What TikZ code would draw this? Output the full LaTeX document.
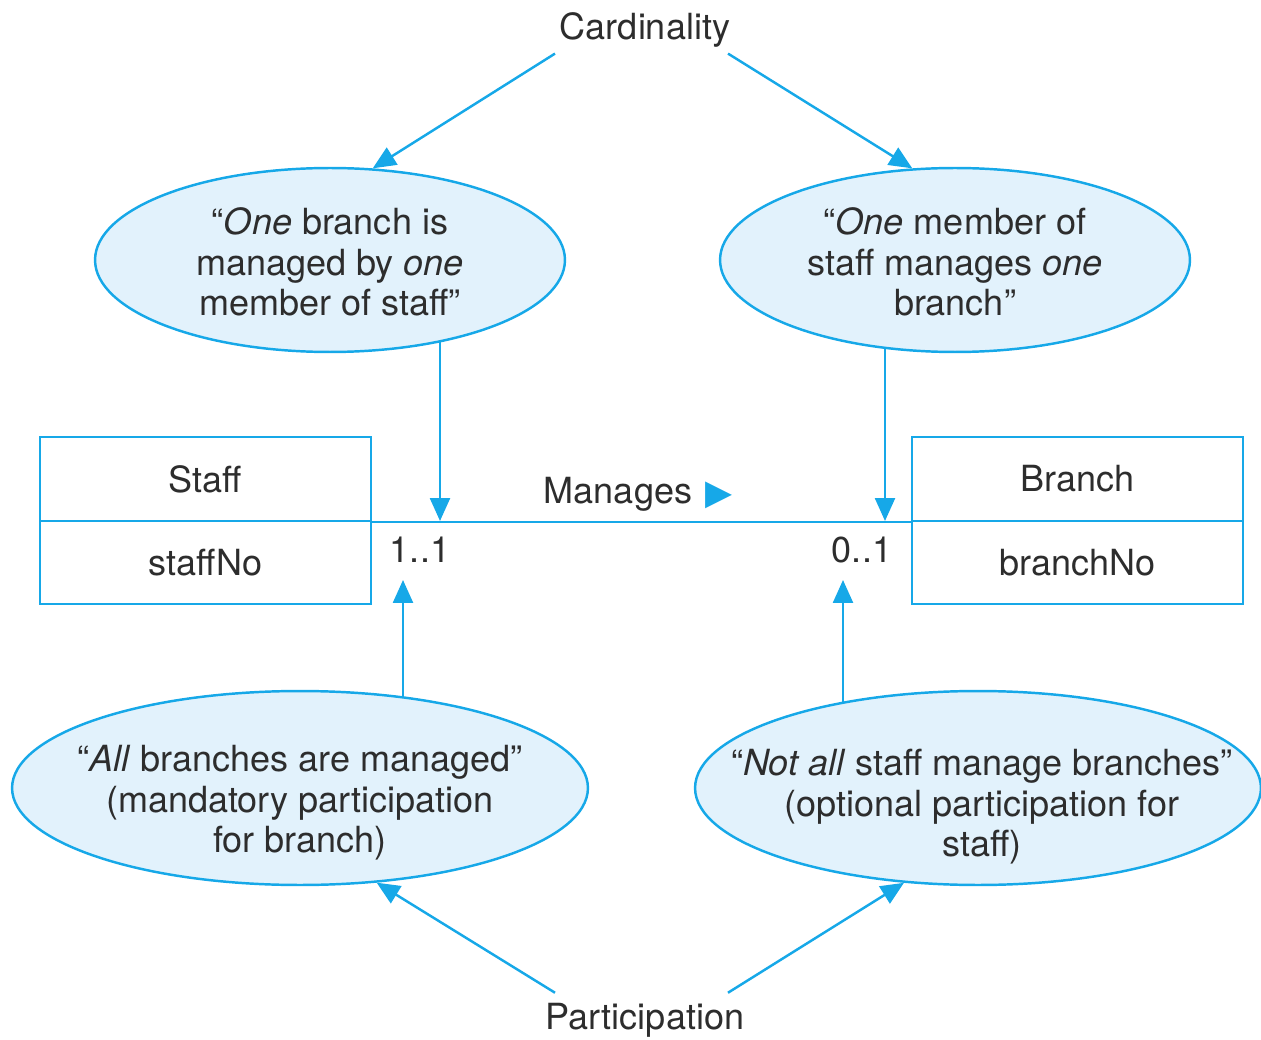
\documentclass[tikz,border=0pt]{standalone}
\usepackage{fontspec}
\setmainfont{TeX Gyre Heros}
\newfontfamily\symfont{DejaVu Sans}
\usetikzlibrary{shapes.geometric,arrows.meta}
\definecolor{erblue}{RGB}{22,168,232}
\definecolor{erfill}{RGB}{226,242,252}
\definecolor{ertext}{RGB}{45,45,45}
\begin{document}
\begin{tikzpicture}[x=0.02cm,y=-0.02cm,
  every node/.style={text=ertext,font=\fontsize{20.5}{23}\selectfont},
  link/.style={draw=erblue,line width=1.4pt},
  arr/.style={link,-{Triangle[length=4.6mm,width=4mm]}},
  bubble/.style={ellipse,draw=erblue,fill=erfill,line width=1.4pt,inner sep=0pt},
  txt/.style={align=center},
  entity/.style={draw=erblue,line width=1.4pt,minimum width=6.62cm,minimum height=1.68cm,inner sep=0pt}]
\useasboundingbox (0,0) rectangle (1261,1040);

% Ellipses
\node[bubble,minimum width=9.4cm,minimum height=3.68cm] (tl) at (330,260) {};
\node[bubble,minimum width=9.4cm,minimum height=3.68cm] (tr) at (955,260) {};
\node[bubble,minimum width=11.52cm,minimum height=3.88cm] (bl) at (300,788) {};
\node[bubble,minimum width=11.32cm,minimum height=3.88cm] (br) at (978,788) {};

\node[txt] at (330,262) {“\emph{One} branch is\\managed by \emph{one}\\member of staff”};
\node[txt] at (955,262) {“\emph{One} member of\\staff manages \emph{one}\\branch”};
\node[txt] at (300,803) {“\emph{All} branches are managed”\\(mandatory participation\\for branch)};
\node[txt] at (982,807) {“\emph{Not all} staff manage branches”\\(optional participation for\\staff)};

% Entities
\node[entity] (staff) at (205.5,479) {Staff};
\node[entity,minimum height=1.66cm] (staffno) at (205.5,562.5) {staffNo};
\node[entity] (branch) at (1077.5,479) {Branch};
\node[entity,minimum height=1.66cm] (branchno) at (1077.5,562.5) {branchNo};

% Relationship
\draw[link] (staff.south east) -- (branch.south west);
\node (manages) at (618,494) {Manages};
\node[text=erblue,font=\symfont\fontsize{20}{20}\selectfont] (dir) at (719,495) {▶};
\node (m1) at (420,550) {1..1};
\node (m2) at (862,550) {0..1};

% Arrows to the line
\coordinate (c1) at (440,521);
\coordinate (c2) at (885,521);
\draw[arr] (c1 |- tl.-36) -- (c1);
\draw[arr] (c2 |- tr.-129) -- (c2);
\coordinate (p1) at (403,580);
\coordinate (p2) at (843,580);
\draw[arr] (p1 |- bl.41) -- (p1);
\draw[arr] (p2 |- br.148) -- (p2);

% Captions
\node (card) at (645,30) {Cardinality};
\coordinate (cw) at ([xshift=-1.8cm]card.south);
\coordinate (ce) at ([xshift=1.66cm]card.south);
\draw[arr] (cw) -- (tl.65);
\draw[arr] (ce) -- (tr.115);
\node (part) at (645,1020) {Participation};
\coordinate (pw) at ([xshift=-1.8cm,yshift=0.08cm]part.north);
\coordinate (pe) at ([xshift=1.66cm,yshift=0.08cm]part.north);
\draw[arr] (pw) -- (bl.-51);
\draw[arr] (pe) -- (br.-128);
\end{tikzpicture}
\end{document}
